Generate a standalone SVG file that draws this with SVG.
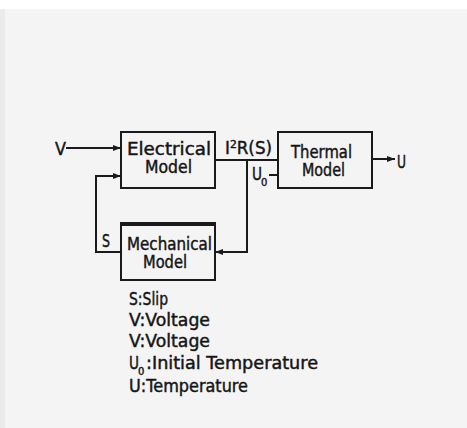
<svg xmlns="http://www.w3.org/2000/svg" width="467" height="428" viewBox="0 0 467 428">
<style>
.t{font-family:"DejaVu Sans","Liberation Sans",sans-serif;font-size:17px;fill:#151515;stroke:#151515;stroke-width:0.45}
.s{font-family:"DejaVu Sans","Liberation Sans",sans-serif;font-size:10px;fill:#151515;stroke:#151515;stroke-width:0.4}
.box{fill:none;stroke:#1a1a1a;stroke-width:2}
.ln{fill:none;stroke:#1a1a1a;stroke-width:2}
</style>
<defs>
<marker id="ah" markerWidth="8" markerHeight="6" refX="8" refY="3" orient="auto" markerUnits="userSpaceOnUse">
<path d="M0,0 L8,3 L0,6 Z" fill="#1a1a1a"/>
</marker>
</defs>
<rect x="0" y="0" width="467" height="428" fill="#f4f4f4"/>
<rect x="0" y="0" width="467" height="9" fill="#ffffff"/>
<rect x="0" y="9" width="5" height="419" fill="#ebebeb"/>

<g id="connectors">
<line class="ln" x1="66" y1="148" x2="121" y2="148" marker-end="url(#ah)"/>
<polyline class="ln" points="121,252 96,252 96,176 121,176" marker-end="url(#ah)"/>
<line class="ln" x1="215" y1="160" x2="278" y2="160"/>
<polyline class="ln" points="247,160 247,252 215,252" marker-end="url(#ah)"/>
<line class="ln" x1="269" y1="175" x2="278" y2="175"/>
<line class="ln" x1="372" y1="159" x2="395" y2="159" marker-end="url(#ah)"/>
<text class="t" x="55" y="155" textLength="11" lengthAdjust="spacingAndGlyphs">V</text>
<text class="t" x="225" y="154" textLength="47" lengthAdjust="spacingAndGlyphs">I<tspan font-size="11" dy="-6">2</tspan><tspan dy="6">R(S)</tspan></text>
<text class="t" x="252" y="180" textLength="10" lengthAdjust="spacingAndGlyphs">U</text>
<text class="s" x="261" y="186">0</text>
<text class="t" x="397" y="168" textLength="9" lengthAdjust="spacingAndGlyphs">U</text>
<text class="t" x="102" y="247" textLength="8" lengthAdjust="spacingAndGlyphs">S</text>
</g>

<g id="electrical">
<rect class="box" x="121" y="132" width="94" height="56"/>
<text class="t" x="127" y="155" textLength="84" lengthAdjust="spacingAndGlyphs">Electrical</text>
<text class="t" x="145" y="173" textLength="47" lengthAdjust="spacingAndGlyphs">Model</text>
</g>

<g id="thermal">
<rect class="box" x="278" y="132" width="94" height="56"/>
<text class="t" x="291" y="158" textLength="61" lengthAdjust="spacingAndGlyphs">Thermal</text>
<text class="t" x="302" y="176" textLength="43" lengthAdjust="spacingAndGlyphs">Model</text>
</g>

<g id="mechanical">
<rect class="box" x="121" y="223" width="94" height="57"/>
<line x1="121" y1="224" x2="215" y2="224" stroke="#1a1a1a" stroke-width="4"/>
<text class="t" x="127" y="250" textLength="85" lengthAdjust="spacingAndGlyphs">Mechanical</text>
<text class="t" x="143" y="268" textLength="44" lengthAdjust="spacingAndGlyphs">Model</text>
</g>

<g id="legend">
<text class="t" x="129" y="305" textLength="39" lengthAdjust="spacingAndGlyphs">S:Slip</text>
<text class="t" x="129" y="326" textLength="81" lengthAdjust="spacingAndGlyphs">V:Voltage</text>
<text class="t" x="129" y="347" textLength="81" lengthAdjust="spacingAndGlyphs">V:Voltage</text>
<text class="t" x="129" y="369" textLength="10" lengthAdjust="spacingAndGlyphs">U</text>
<text class="s" x="138" y="375">0</text>
<text class="t" x="146" y="369" textLength="172" lengthAdjust="spacingAndGlyphs">:Initial Temperature</text>
<text class="t" x="129" y="392" textLength="119" lengthAdjust="spacingAndGlyphs">U:Temperature</text>
</g>
</svg>
